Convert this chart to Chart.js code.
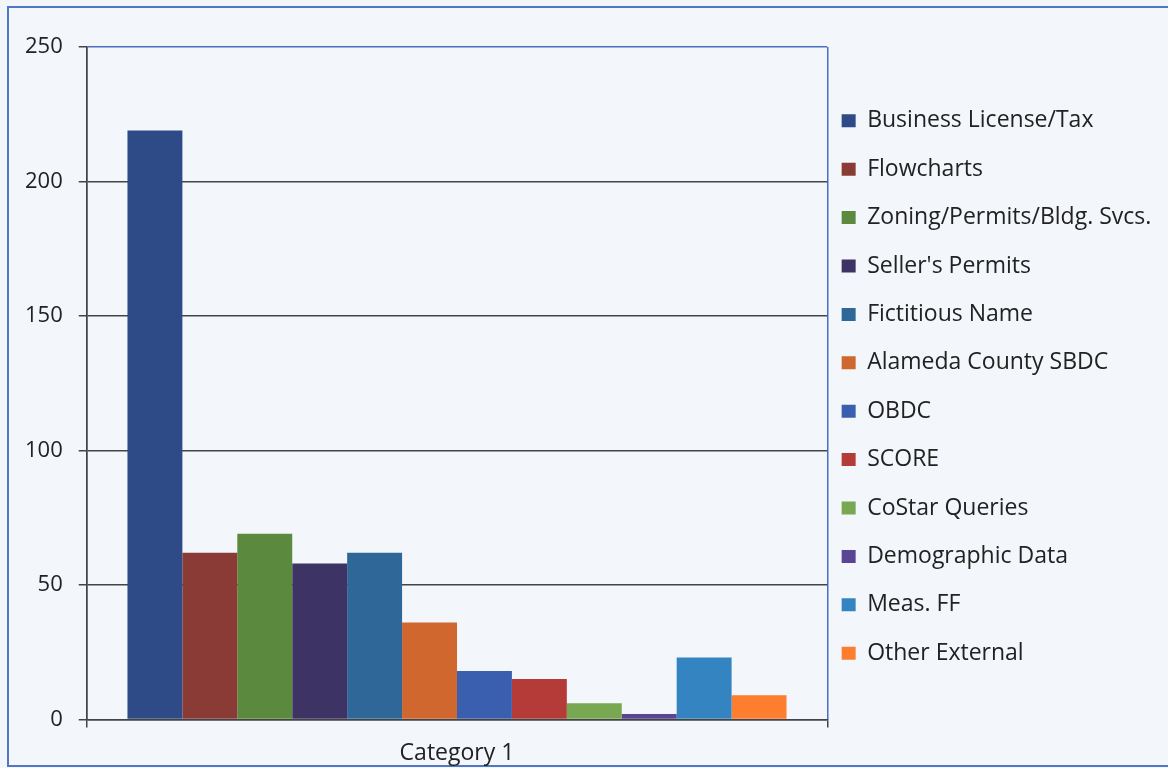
<!DOCTYPE html>
<html>
<head>
<meta charset="utf-8">
<script src="https://cdn.jsdelivr.net/npm/chart.js@4.4.1/dist/chart.umd.min.js"></script>
<style>
  html, body { margin: 0; padding: 0; width: 1168px; height: 768px; overflow: hidden; background: #f2f5f9; }
  .frame { position: absolute; left: 7px; top: 6px; width: 1170px; height: 757px; border: 2px solid #4f77c3; background: #f3f6fa; }
  #usage-chart { position: absolute; left: 9px; top: 8px; display: block; }
</style>
</head>
<body>
<div class="frame"></div>
<canvas id="usage-chart" width="1170" height="771"></canvas>
<script>
const categories = ['Category 1']
const seriesNames = [
    'Business License/Tax', 'Flowcharts', 'Zoning/Permits/Bldg. Svcs.', "Seller's Permits",
    'Fictitious Name', 'Alameda County SBDC', 'OBDC', 'SCORE',
    'CoStar Queries', 'Demographic Data', 'Meas. FF', 'Other External'
]
const seriesValues = [219, 62, 69, 58, 62, 36, 18, 15, 6, 2, 23, 9]
const seriesColors = [
    '#2e4b88', '#8b3b35', '#5b8a3f', '#3d3365', '#2f6898', '#cf672e',
    '#3a5fae', '#b53b38', '#78a851', '#5a4595', '#3484c2', '#fd7e2e'
]
const yTicks = [0, 50, 100, 150, 200, 250]

const gridGray = '#444444'
const frameBlue = '#4a6fbf'
const textFont = 'Open Sans'

// legend boxes sit closer to the plot (and higher) than its own padding would put them;
// its right edge is opened up so the long labels are not clipped
const legendShift = {
    id: 'legendShift',
    afterLayout(chart) {
        const lg = chart.legend
        lg.left -= 11
        lg.right = chart.width
        lg.top -= 26
        lg.bottom -= 26
    }
}

function renderChart() {
    const datasets = seriesNames.map((name, i) => ({
        label: name,
        data: [seriesValues[i]],
        backgroundColor: seriesColors[i],
        borderWidth: 0,
        categoryPercentage: 0.89,
        barPercentage: 1
    }))

    const ctx = document.getElementById('usage-chart')
    new Chart(ctx, {
        type: 'bar',
        data: { labels: categories, datasets },
        options: {
            responsive: false,
            animation: false,
            layout: { padding: { top: 39, left: 0, bottom: 0, right: 79 } },
            plugins: {
                tooltip: { enabled: false },
                legend: {
                    position: 'right',
                    labels: {
                        boxWidth: 14,
                        boxHeight: 13,
                        padding: 25.4,
                        color: '#222222',
                        font: { family: textFont, size: 23 }
                    }
                }
            },
            scales: {
                x: {
                    offset: true,
                    grid: {
                        offset: true,
                        color: c => (c.index === 0 ? gridGray : frameBlue),
                        tickColor: gridGray,
                        lineWidth: 1.5,
                        tickLength: 8
                    },
                    border: { color: gridGray, width: 1.5 },
                    ticks: { color: '#222222', padding: 12, font: { family: textFont, size: 23 } }
                },
                y: {
                    min: 0,
                    max: 250,
                    afterBuildTicks: axis => { axis.ticks = yTicks.map(v => ({ value: v })) },
                    grid: {
                        color: c => (c.tick && c.tick.value === 250 ? frameBlue : gridGray),
                        tickColor: gridGray,
                        lineWidth: 1.5,
                        tickLength: 8
                    },
                    border: { color: gridGray, width: 1.5 },
                    ticks: { color: '#222222', padding: 16, font: { family: textFont, size: 22 } }
                }
            }
        },
        plugins: [legendShift]
    })
}

addEventListener('load', renderChart)
</script>
</body>
</html>
